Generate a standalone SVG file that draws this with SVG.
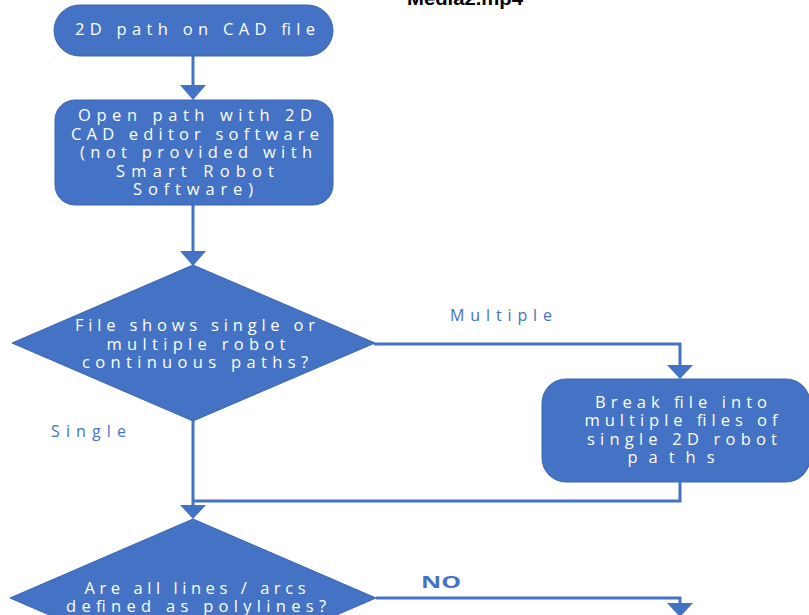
<svg xmlns="http://www.w3.org/2000/svg" width="809" height="615" viewBox="0 0 809 615">
<defs>
<style>
.node{fill:#4472C4;stroke:#3A65B0;stroke-width:1}
.nt{fill:#fff;font-family:"Open Sans","Liberation Sans",sans-serif;font-size:16.5px;text-anchor:middle}
.lbl{fill:#4472C4;font-family:"Open Sans","Liberation Sans",sans-serif;font-size:16px}
.con{fill:none;stroke:#4472C4;stroke-width:3}
.ah{fill:#4472C4}
</style>
</defs>
<rect width="809" height="615" fill="#fff"/>
<text x="465" y="5" font-family="'Liberation Sans',sans-serif" font-weight="bold" font-size="19" text-anchor="middle" textLength="116" lengthAdjust="spacingAndGlyphs">Media2.mp4</text>
<g id="connectors">
<path class="con" d="M193,56 V86"/>
<polygon class="ah" points="180,85 206,85 193,100"/>
<path class="con" d="M193,205 V252"/>
<polygon class="ah" points="180,251 206,251 193,266"/>
<path class="con" d="M374,344 H680 V366"/>
<polygon class="ah" points="667,365 693,365 680,379"/>
<path class="con" d="M680,482 V501 H193"/>
<path class="con" d="M193,421 V506"/>
<polygon class="ah" points="180,505 206,505 193,519"/>
<path class="con" d="M376,598 H680 V604"/>
<polygon class="ah" points="667,603 693,603 680,617"/>
<text class="lbl" x="450" y="321" textLength="102" lengthAdjust="spacing">Multiple</text>
<text class="lbl" x="51" y="437" textLength="75" lengthAdjust="spacing">Single</text>
<text class="lbl" x="421" y="588" font-weight="bold" font-size="17" textLength="40" lengthAdjust="spacingAndGlyphs">NO</text>
</g>
<g id="start">
<rect class="node" x="54" y="5" width="279" height="51" rx="25.5"/>
<text class="nt" x="195" y="35" textLength="240" lengthAdjust="spacing">2D path on CAD file</text>
</g>
<g id="open-path">
<rect class="node" x="55" y="100" width="278" height="105" rx="20"/>
<text class="nt" x="195" y="121" textLength="234" lengthAdjust="spacing">Open path with 2D</text>
<text class="nt" x="195" y="139.5" textLength="248" lengthAdjust="spacing">CAD editor software</text>
<text class="nt" x="196" y="158" textLength="232" lengthAdjust="spacing">(not provided with</text>
<text class="nt" x="195" y="176.5" textLength="158" lengthAdjust="spacing">Smart Robot</text>
<text class="nt" x="193" y="195" textLength="120" lengthAdjust="spacing">Software)</text>
</g>
<g id="decision-paths">
<polygon class="node" points="193,265 375,343 193,421 12,343"/>
<text class="nt" x="195" y="331" textLength="240" lengthAdjust="spacing">File shows single or</text>
<text class="nt" x="196" y="350" textLength="179" lengthAdjust="spacing">multiple robot</text>
<text class="nt" x="195" y="368" textLength="226" lengthAdjust="spacing">continuous paths?</text>
</g>
<g id="break-file">
<rect class="node" x="542" y="379" width="268" height="103" rx="24"/>
<text class="nt" x="681" y="408" textLength="172" lengthAdjust="spacing">Break file into</text>
<text class="nt" x="681" y="426" textLength="193" lengthAdjust="spacing">multiple files of</text>
<text class="nt" x="682" y="444.5" textLength="190" lengthAdjust="spacing">single 2D robot</text>
<text class="nt" x="671" y="463" textLength="87" lengthAdjust="spacing">paths</text>
</g>
<g id="decision-polylines">
<polygon class="node" points="193,519 376,598 193,677 10,598"/>
<text class="nt" x="195" y="594" textLength="221" lengthAdjust="spacing">Are all lines / arcs</text>
<text class="nt" x="196" y="612" textLength="260" lengthAdjust="spacing">defined as polylines?</text>
</g>
</svg>
